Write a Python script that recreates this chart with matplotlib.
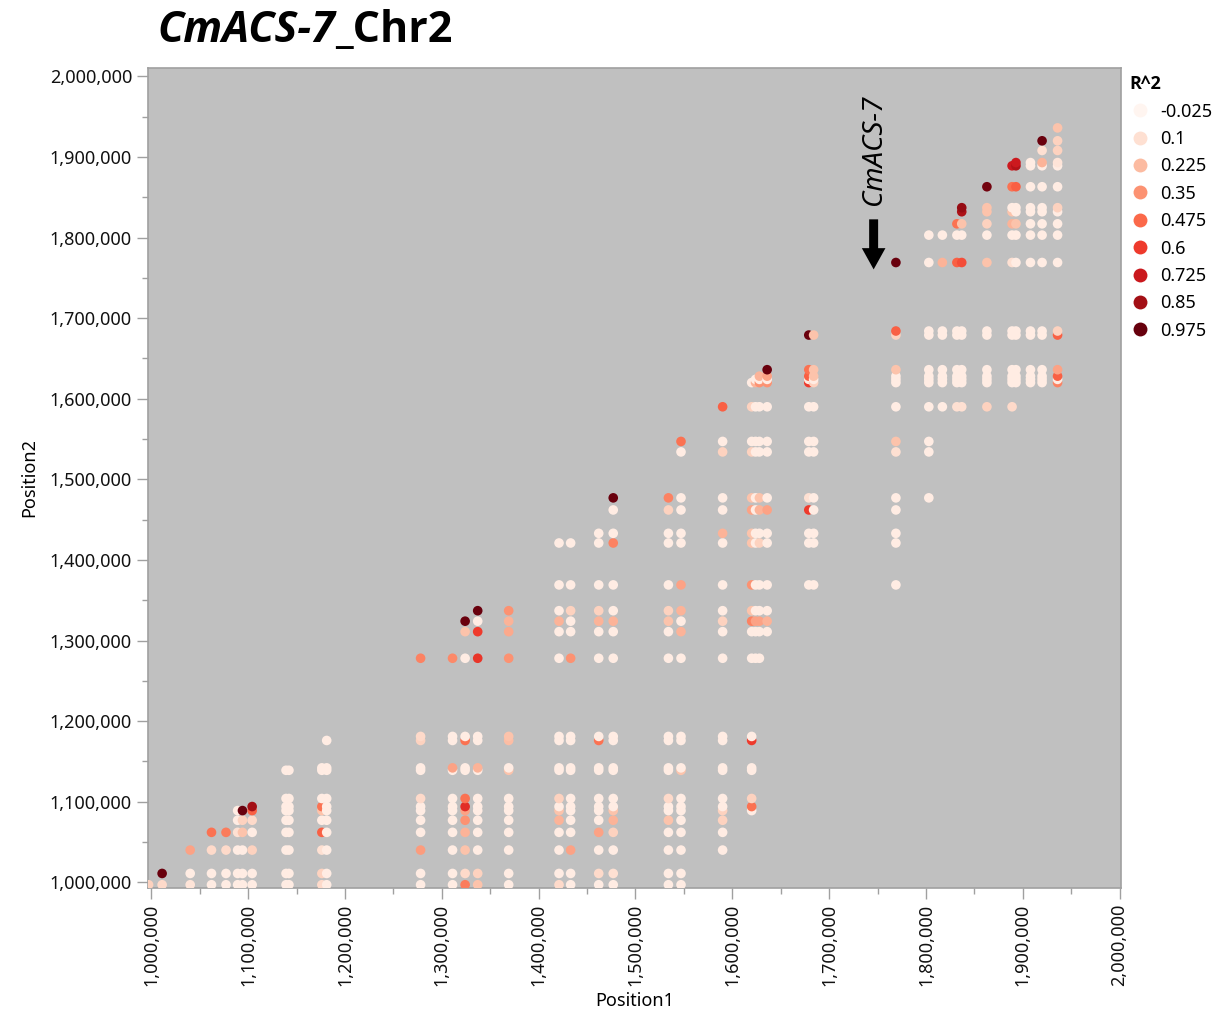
import matplotlib
matplotlib.use('Agg')
import matplotlib.pyplot as plt
from matplotlib.colors import Normalize
from matplotlib.lines import Line2D
from matplotlib.ticker import FuncFormatter, MultipleLocator

plt.rcParams['font.family'] = ['Noto Sans', 'DejaVu Sans']
BOLD_FAMILY = ['Open Sans', 'Lato', 'DejaVu Sans']

# SNP positions (bp) along Chr2
snp_pos = [997000, 1011000, 1040000, 1062000, 1077000, 1089000, 1094000, 1104000,
           1139000, 1142000, 1176000, 1181000, 1278000, 1311000, 1324000, 1337000,
           1369000, 1421000, 1433000, 1462000, 1477000, 1534000, 1547000, 1590000,
           1620000, 1624000, 1628000, 1636000, 1679000, 1684000, 1769000, 1803000,
           1817000, 1832000, 1837000, 1863000, 1889000, 1893000, 1908000, 1920000,
           1936000]

# for each Position1 SNP: first and last SNP index used as Position2
win_first = [0, 0, 0, 0, 0, 0, 0, 0, 0, 0, 0, 0, 0, 0, 0, 0, 0, 0, 0, 0, 0,
             0, 0, 2, 5, 12, 12, 13, 16, 16, 16, 20, 23, 23, 23, 23, 23, 24, 24, 24, 24]
win_last = [0, 1, 2, 3, 3, 5, 5, 6, 8, 8, 9, 10, 12, 12, 14, 15, 15, 17, 17, 18, 20,
            20, 22, 23, 24, 25, 26, 27, 28, 28, 30, 31, 31, 32, 34, 35, 36, 37, 37, 39, 40]

# background LD for pairs not listed below
r2_base = 0.03

# (Position1 kb, Position2 kb, R^2)
r2_pairs = [
    (997, 997, .15), (1011, 997, .12), (1011, 1011, .97), (1040, 997, .08), (1040, 1040, .3),
    (1062, 1040, .12), (1062, 1062, .45), (1077, 1040, .12), (1077, 1062, .42),
    (1089, 1062, .1), (1094, 1062, .2), (1094, 1077, .15), (1094, 1089, .97),
    (1104, 1040, .15), (1104, 1077, .12), (1104, 1089, .5), (1104, 1094, .85),
    (1176, 997, .12), (1176, 1011, .15), (1176, 1040, .1), (1176, 1062, .5), (1176, 1089, .2),
    (1176, 1094, .45),
    (1278, 1040, .32), (1278, 1104, .12), (1278, 1176, .15), (1278, 1181, .12), (1278, 1278, .4),
    (1311, 1142, .3), (1311, 1278, .38),
    (1324, 997, .42), (1324, 1011, .12), (1324, 1040, .2), (1324, 1062, .25), (1324, 1077, .35),
    (1324, 1089, .3), (1324, 1094, .65), (1324, 1104, .45), (1324, 1176, .45), (1324, 1311, .2),
    (1324, 1324, .97),
    (1337, 997, .2), (1337, 1011, .15), (1337, 1142, .25), (1337, 1278, .62), (1337, 1311, .6),
    (1337, 1337, .97),
    (1369, 1139, .2), (1369, 1176, .22), (1369, 1181, .2), (1369, 1278, .35), (1369, 1311, .28),
    (1369, 1324, .25), (1369, 1337, .35),
    (1421, 997, .12), (1421, 1077, .25), (1421, 1089, .2), (1421, 1104, .15), (1421, 1324, .25),
    (1433, 1040, .3), (1433, 1278, .35), (1433, 1337, .15),
    (1462, 1011, .12), (1462, 1062, .3), (1462, 1176, .45), (1462, 1324, .25), (1462, 1337, .15),
    (1477, 1011, .1), (1477, 1062, .15), (1477, 1077, .25), (1477, 1089, .2), (1477, 1324, .25),
    (1477, 1421, .4), (1477, 1477, .97),
    (1534, 1077, .2), (1534, 1104, .12), (1534, 1324, .2), (1534, 1337, .15), (1534, 1462, .15),
    (1534, 1477, .4),
    (1547, 1139, .2), (1547, 1311, .25), (1547, 1337, .25), (1547, 1369, .3), (1547, 1547, .45),
    (1590, 1077, .15), (1590, 1089, .15), (1590, 1324, .15), (1590, 1433, .25), (1590, 1534, .15),
    (1590, 1590, .5),
    (1620, 1094, .45), (1620, 1104, .15), (1620, 1176, .6), (1620, 1324, .4), (1620, 1337, .2),
    (1620, 1369, .35), (1620, 1421, .2), (1620, 1433, .2), (1620, 1462, .3), (1620, 1477, .2),
    (1620, 1534, .15), (1620, 1590, .15),
    (1624, 1324, .3), (1624, 1620, .25),
    (1628, 1324, .3), (1628, 1421, .15), (1628, 1462, .25), (1628, 1477, .2), (1628, 1620, .35),
    (1628, 1628, .25),
    (1636, 1324, .25), (1636, 1462, .3), (1636, 1620, .35), (1636, 1628, .3), (1636, 1636, .97),
    (1679, 1462, .6), (1679, 1477, .1), (1679, 1620, .6), (1679, 1628, .5), (1679, 1636, .45),
    (1679, 1679, .97),
    (1684, 1620, .15), (1684, 1628, .2), (1684, 1636, .2), (1684, 1679, .2),
    (1769, 1534, .1), (1769, 1547, .2), (1769, 1636, .2), (1769, 1679, .15), (1769, 1684, .5),
    (1769, 1769, .97),
    (1817, 1769, .25), (1832, 1769, .5), (1837, 1769, .55), (1863, 1769, .2), (1889, 1769, .1),
    (1832, 1590, .1), (1837, 1590, .1), (1863, 1590, .15), (1889, 1590, .12),
    (1832, 1817, .45), (1837, 1817, .2), (1837, 1832, .82), (1837, 1837, .88),
    (1863, 1817, .15), (1863, 1832, .2), (1863, 1837, .2), (1863, 1863, .95),
    (1889, 1817, .25), (1889, 1832, .2), (1889, 1863, .45), (1889, 1889, .72),
    (1893, 1817, .2), (1893, 1863, .5), (1893, 1889, .8), (1893, 1893, .72),
    (1920, 1893, .25), (1920, 1908, .1), (1920, 1920, .97),
    (1936, 1620, .4), (1936, 1628, .5), (1936, 1636, .3), (1936, 1679, .5), (1936, 1684, .15),
    (1936, 1837, .15), (1936, 1893, .08), (1936, 1908, .15), (1936, 1920, .15), (1936, 1936, .2),
]

legend_levels = [-0.025, 0.1, 0.225, 0.35, 0.475, 0.6, 0.725, 0.85, 0.975]

gene_name = 'CmACS-7'
chrom = 'Chr2'
gene_pos = 1746000

# build the pair table
r2_lookup = {(a * 1000, b * 1000): v for a, b, v in r2_pairs}
pos1, pos2, r2 = [], [], []
for i, p in enumerate(snp_pos):
    for j in range(win_first[i], win_last[i] + 1):
        q = snp_pos[j]
        pos1.append(p)
        pos2.append(q)
        r2.append(r2_lookup.get((p, q), r2_base))

cmap = plt.get_cmap('Reds')
norm = Normalize(vmin=-0.025, vmax=0.975)

fig = plt.figure(figsize=(12.17, 10.14), dpi=100)
ax = fig.add_axes([0.1216, 0.1243, 0.7995, 0.8087])
ax.set_facecolor('#c0c0c0')

ax.scatter(pos1, pos2, c=r2, cmap=cmap, norm=norm, s=48, linewidths=0, zorder=3)

ax.set_xlim(996400, 2001500)
ax.set_ylim(993000, 2010400)

fmt = FuncFormatter(lambda v, _: f'{v:,.0f}')
for axis in (ax.xaxis, ax.yaxis):
    axis.set_major_locator(MultipleLocator(100000))
    axis.set_minor_locator(MultipleLocator(50000))
    axis.set_major_formatter(fmt)
ax.tick_params(which='major', length=8, width=1, color='#a0a0a0', labelsize=13, labelcolor='#111111')
ax.tick_params(which='minor', length=4, width=1, color='#a0a0a0')
plt.setp(ax.get_xticklabels(), rotation=90)
for sp in ax.spines.values():
    sp.set_color('#a0a0a0')
    sp.set_linewidth(1.2)

ax.set_xlabel('Position1', fontsize=13, labelpad=4)
ax.set_ylabel('Position2', fontsize=13, labelpad=8)

# gene marker
ax.annotate('', xy=(gene_pos, 1757000), xytext=(gene_pos, 1826000),
            arrowprops=dict(arrowstyle='simple,head_length=0.9,head_width=1.0,tail_width=0.38',
                            mutation_scale=17, color='black', lw=0),
            zorder=5)
ax.text(gene_pos, 1840000, gene_name, rotation=90, fontsize=20, fontstyle='italic',
        ha='center', va='bottom', zorder=5)

# title: italic gene name + chromosome
fig.canvas.draw()
t1 = fig.text(157 / 1217, 0.959, gene_name, fontsize=31, fontweight='bold',
              fontstyle='italic', family=BOLD_FAMILY, va='baseline', ha='left')
bb = t1.get_window_extent(renderer=fig.canvas.get_renderer())
fig.text(bb.x1 / fig.bbox.width, 0.959, '_' + chrom, fontsize=31, fontweight='bold',
         family=BOLD_FAMILY, va='baseline', ha='left')

handles = [Line2D([], [], marker='o', linestyle='', markersize=10, markeredgewidth=0,
                  color=cmap(norm(v))) for v in legend_levels]
labels = [f'{v:g}' for v in legend_levels]
fig.legend(handles, labels, title='R^2', loc='upper left',
           bbox_to_anchor=(1122 / 1217, 1 - 68 / 1014), frameon=False, fontsize=13,
           title_fontproperties={'weight': 'bold', 'size': 13, 'family': BOLD_FAMILY},
           alignment='left', handletextpad=0.5, labelspacing=0.52, borderaxespad=0,
           handlelength=1.2)

fig.savefig('out.png', dpi=100, facecolor='white')
